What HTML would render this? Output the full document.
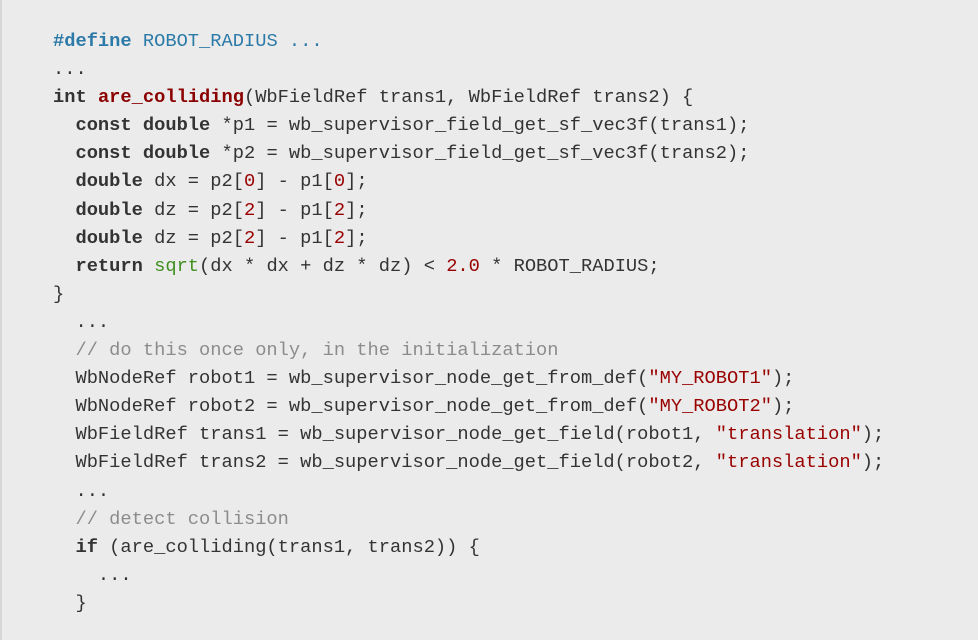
<!DOCTYPE html>
<html>
<head>
<meta charset="utf-8">
<style>
  html,body{margin:0;padding:0;}
  body{width:978px;height:640px;background:#ebebeb;position:relative;overflow:hidden;}
  .bar{position:absolute;left:0;top:0;width:2px;height:640px;background:#d6d6d6;}
  pre{position:absolute;left:53px;top:27px;margin:0;
      font-family:"Liberation Mono",monospace;font-size:18.73px;line-height:28.1px;
      color:#333;white-space:pre;}
  .k{font-weight:bold;color:#333;}
  .pp{font-weight:bold;color:#2c7aa8;}
  .m{color:#2c7aa8;}
  .f{font-weight:bold;color:#8b0000;}
  .n{color:#990000;}
  .s{color:#990000;}
  .g{color:#3f8f1f;}
  .c{color:#8c8c8c;}
</style>
</head>
<body>
<div class="bar"></div>
<pre><span class="pp">#define</span><span class="m"> ROBOT_RADIUS ...</span>
...
<span class="k">int</span> <span class="f">are_colliding</span>(WbFieldRef trans1, WbFieldRef trans2) {
  <span class="k">const</span> <span class="k">double</span> *p1 = wb_supervisor_field_get_sf_vec3f(trans1);
  <span class="k">const</span> <span class="k">double</span> *p2 = wb_supervisor_field_get_sf_vec3f(trans2);
  <span class="k">double</span> dx = p2[<span class="n">0</span>] - p1[<span class="n">0</span>];
  <span class="k">double</span> dz = p2[<span class="n">2</span>] - p1[<span class="n">2</span>];
  <span class="k">double</span> dz = p2[<span class="n">2</span>] - p1[<span class="n">2</span>];
  <span class="k">return</span> <span class="g">sqrt</span>(dx * dx + dz * dz) &lt; <span class="n">2.0</span> * ROBOT_RADIUS;
}
  ...
  <span class="c">// do this once only, in the initialization</span>
  WbNodeRef robot1 = wb_supervisor_node_get_from_def(<span class="s">"MY_ROBOT1"</span>);
  WbNodeRef robot2 = wb_supervisor_node_get_from_def(<span class="s">"MY_ROBOT2"</span>);
  WbFieldRef trans1 = wb_supervisor_node_get_field(robot1, <span class="s">"translation"</span>);
  WbFieldRef trans2 = wb_supervisor_node_get_field(robot2, <span class="s">"translation"</span>);
  ...
  <span class="c">// detect collision</span>
  <span class="k">if</span> (are_colliding(trans1, trans2)) {
    ...
  }</pre>
</body>
</html>
